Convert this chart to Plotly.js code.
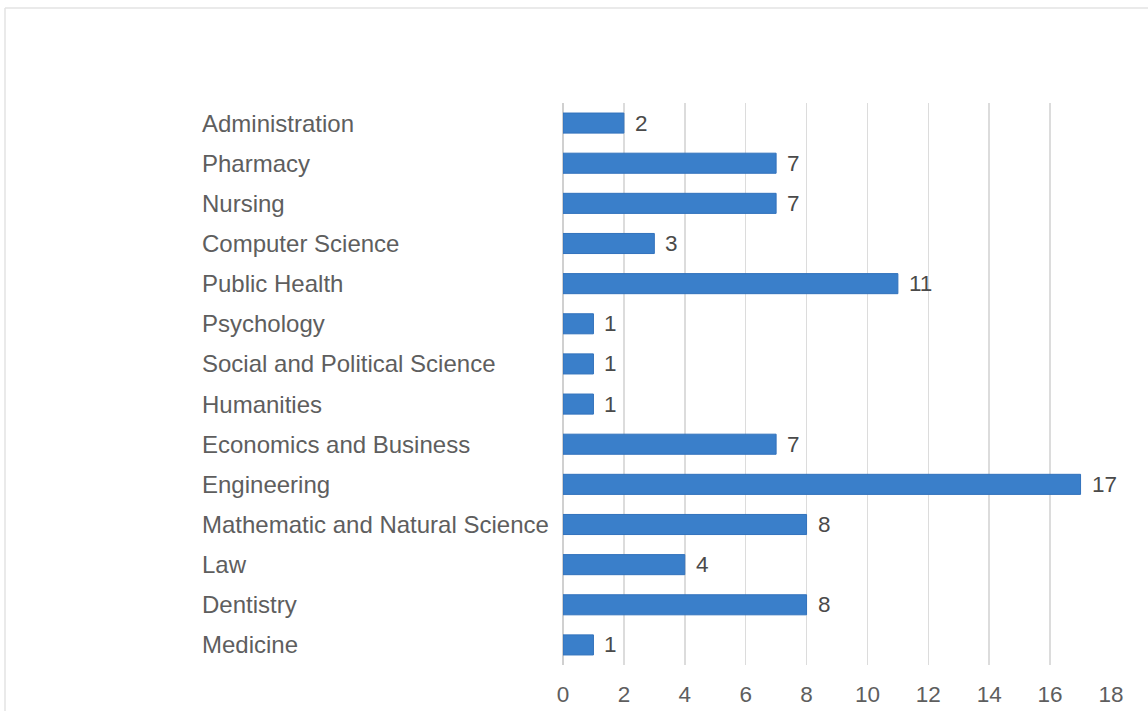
<!DOCTYPE html>
<html>
<head>
<meta charset="utf-8">
<script src="https://cdn.plot.ly/plotly-3.0.1.min.js"></script>
<style>
html,body{margin:0;padding:0;background:#fff;}
#chart{width:1148px;height:711px;}
</style>
</head>
<body>
<div id="chart"></div>
<script>
const categories = ["Administration","Pharmacy","Nursing","Computer Science","Public Health","Psychology","Social and Political Science","Humanities","Economics and Business","Engineering","Mathematic and Natural Science","Law","Dentistry","Medicine"];
const values = [2,7,7,3,11,1,1,1,7,17,8,4,8,1];
const xTicks = [0,2,4,6,8,10,12,14,16,18];

const FONT = "Liberation Sans, Arial, sans-serif";
const W = 1148, H = 711;
const mL = 563, mR = 37, mT = 103, mB = 46;
const pw = W - mL - mR, ph = H - mT - mB;

const trace = {
  type: 'bar',
  orientation: 'h',
  y: categories,
  x: values,
  marker: {color: '#3a7fca', line: {color: '#3272bc', width: 1}},
  hoverinfo: 'none'
};

const catAnnotations = categories.map(c => ({
  xref: 'paper', yref: 'y',
  x: (200 - mL) / pw, y: c,
  xanchor: 'left', yanchor: 'middle',
  text: c, showarrow: false,
  font: {family: FONT, size: 24, color: '#5e5e5e'}
}));

const valueAnnotations = values.map((v, i) => ({
  xref: 'x', yref: 'y',
  x: v, y: categories[i],
  xanchor: 'left', yanchor: 'middle',
  xshift: 9,
  text: String(v), showarrow: false,
  font: {family: FONT, size: 22.5, color: '#4a4a4a'}
}));

const layout = {
  width: W, height: H,
  margin: {l: mL, r: mR, t: mT, b: mB, pad: 0},
  paper_bgcolor: '#fff',
  plot_bgcolor: '#fff',
  showlegend: false,
  bargap: 0.5,
  xaxis: {
    range: [0, 18],
    tickvals: xTicks,
    ticktext: xTicks.map(String),
    showgrid: true,
    gridcolor: '#dcdcdc',
    gridwidth: 1.5,
    zeroline: true,
    zerolinecolor: '#d0d0d0',
    zerolinewidth: 1.5,
    showline: false,
    ticks: '',
    ticklabelstandoff: 13,
    tickfont: {family: FONT, size: 22.5, color: '#5e5e5e'},
    fixedrange: true
  },
  yaxis: {
    type: 'category',
    autorange: 'reversed',
    showticklabels: false,
    showgrid: false,
    zeroline: false,
    ticks: '',
    fixedrange: true
  },
  annotations: catAnnotations.concat(valueAnnotations),
  shapes: [
    {type: 'line', xref: 'paper', yref: 'paper', x0: (5 - mL) / pw, x1: (1160 - mL) / pw, y0: (H - mB - 8) / ph, y1: (H - mB - 8) / ph, line: {color: '#e3e3e3', width: 1.5}},
    {type: 'line', xref: 'paper', yref: 'paper', x0: (5 - mL) / pw, x1: (5 - mL) / pw, y0: (H - mB - 8) / ph, y1: (H - mB - 720) / ph, line: {color: '#e3e3e3', width: 1.5}}
  ]
};

Plotly.newPlot('chart', [trace], layout, {displayModeBar: false, staticPlot: true});
</script>
</body>
</html>
